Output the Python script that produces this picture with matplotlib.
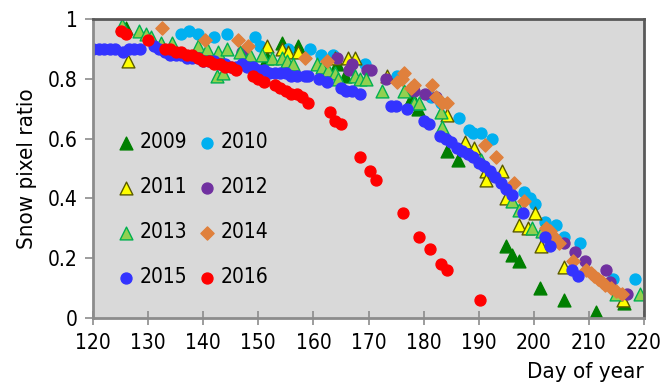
import matplotlib
matplotlib.use("Agg")
import matplotlib.pyplot as plt

plt.rcParams['font.family'] = ['Liberation Sans Narrow', 'DejaVu Sans']
plt.rcParams['font.stretch'] = 'condensed'

# ---- data (day of year, snow pixel ratio) ----
day_2009 = [126, 151.5, 154.3, 157.2, 164.2, 165.7, 177.4, 177.9, 179, 184.3, 186.3,
            195, 196, 197.3, 201.2, 205.4, 211.2, 216.4]
snow_2009 = [0.97, 0.87, 0.92, 0.91, 0.85, 0.81, 0.72, 0.74, 0.70, 0.56, 0.53,
             0.24, 0.21, 0.19, 0.10, 0.06, 0.02, 0.05]

day_2010 = [136, 137.5, 139, 142, 144.4, 149.4, 150.3, 155.4, 159.4, 161.3, 163.5,
            169.3, 175.2, 181.4, 183.2, 186.4, 188.2, 189, 190.4, 192.4, 198.2,
            199.4, 200.3, 202, 204, 205.4, 208.3, 214.4, 218.4]
snow_2010 = [0.95, 0.96, 0.95, 0.94, 0.95, 0.94, 0.91, 0.90, 0.90, 0.88, 0.88,
             0.85, 0.81, 0.74, 0.72, 0.67, 0.63, 0.62, 0.62, 0.60, 0.42,
             0.40, 0.38, 0.32, 0.31, 0.27, 0.25, 0.13, 0.13]

day_2011 = [126.3, 151.6, 154.3, 155.4, 157.2, 163.9, 166.2, 167.5, 173.4, 184.3, 187.5,
            189.1, 191.3, 191.3, 194.3, 195, 197.3, 199, 200.3, 201.3, 205.4, 216.2]
snow_2011 = [0.86, 0.91, 0.90, 0.89, 0.89, 0.87, 0.87, 0.87, 0.81, 0.68, 0.59,
             0.57, 0.49, 0.46, 0.49, 0.40, 0.31, 0.30, 0.35, 0.24, 0.17, 0.06]

day_2012 = [147, 164.3, 166.5, 167, 169.8, 170.5, 173.2, 178.3, 180.3, 182.3,
            205.4, 207.5, 209.3, 213.1, 213.9, 217]
snow_2012 = [0.89, 0.87, 0.83, 0.85, 0.83, 0.83, 0.80, 0.76, 0.75, 0.74,
             0.25, 0.22, 0.19, 0.16, 0.12, 0.08]

day_2013 = [125.2, 128.3, 129.6, 130.5, 132.3, 134.3, 139.1, 140.6, 142.5, 143.6,
            142.7, 144.4, 146.7, 148.5, 150.7, 152.5, 154.3, 155.2, 156.3, 160.6,
            161.5, 162.6, 163.9, 164.4, 167.5, 168.4, 169.6, 172.4, 176.5, 178.3,
            179.2, 183.2, 183.4, 190.4, 196, 197.3, 199.6, 201.4, 215, 219.3]
snow_2013 = [0.98, 0.96, 0.95, 0.94, 0.92, 0.92, 0.91, 0.90, 0.81, 0.82,
             0.89, 0.90, 0.89, 0.88, 0.88, 0.87, 0.87, 0.86, 0.85, 0.85,
             0.84, 0.83, 0.82, 0.80, 0.81, 0.80, 0.80, 0.76, 0.76, 0.72,
             0.72, 0.69, 0.64, 0.53, 0.39, 0.36, 0.30, 0.29, 0.08, 0.08]

day_2014 = [132.5, 140.4, 146.4, 148.2, 158.4, 162.4, 175.2, 176, 176.5, 177.8, 178.3,
            181.5, 182.3, 183.4, 184.3, 191.2, 193.2, 196.4, 198.2, 202.3, 203, 203.7,
            204.5, 207.2, 209.5, 210.3, 211, 211.7, 212.3, 213, 214, 215, 216]
snow_2014 = [0.97, 0.93, 0.93, 0.91, 0.87, 0.86, 0.79, 0.80, 0.82, 0.77, 0.78,
             0.78, 0.74, 0.72, 0.72, 0.58, 0.54, 0.45, 0.39, 0.30, 0.29, 0.27,
             0.25, 0.19, 0.16, 0.15, 0.14, 0.13, 0.12, 0.11, 0.10, 0.09, 0.08]

day_2015 = [120, 121, 122, 123, 124, 125.5, 126.5, 127.5, 128.5, 131, 132, 133, 134,
            135, 136, 137, 138, 139, 140, 141, 142, 143, 144, 145, 146, 147, 148,
            149, 150, 151, 152, 153, 154, 155, 156, 157, 158.4, 159, 161, 162.4,
            165, 166, 167, 168.4, 174, 175, 177, 180, 181, 183, 184, 185, 186, 187,
            188, 189, 190, 191, 192, 193, 194, 195, 196, 198, 202, 203, 207, 208]
snow_2015 = [0.90, 0.90, 0.90, 0.90, 0.90, 0.89, 0.90, 0.90, 0.90, 0.91, 0.90, 0.89, 0.88,
             0.88, 0.88, 0.87, 0.87, 0.87, 0.86, 0.86, 0.86, 0.85, 0.85, 0.84, 0.84, 0.85, 0.84,
             0.84, 0.83, 0.83, 0.82, 0.82, 0.82, 0.82, 0.81, 0.81, 0.81, 0.81, 0.80, 0.79,
             0.77, 0.76, 0.76, 0.75, 0.71, 0.71, 0.70, 0.66, 0.65, 0.61, 0.60, 0.59, 0.57, 0.56,
             0.55, 0.54, 0.52, 0.51, 0.49, 0.47, 0.45, 0.43, 0.41, 0.35, 0.27, 0.24, 0.16, 0.14]

day_2016 = [125, 126, 130, 133, 134, 135, 136, 137, 138, 139, 140, 141, 142, 143, 144,
            145, 146, 149, 150, 151, 153, 154, 155, 156, 157, 158, 159, 163, 164, 165,
            168.4, 170.3, 171.3, 176.3, 179.1, 181.2, 183.2, 184.3, 190.2]
snow_2016 = [0.96, 0.95, 0.93, 0.90, 0.90, 0.89, 0.89, 0.88, 0.88, 0.87, 0.86, 0.86, 0.85, 0.85, 0.84,
             0.84, 0.83, 0.81, 0.80, 0.79, 0.78, 0.77, 0.76, 0.75, 0.75, 0.74, 0.72, 0.69, 0.66, 0.65,
             0.54, 0.49, 0.46, 0.35, 0.27, 0.23, 0.18, 0.16, 0.06]

years = ['2009', '2010', '2011', '2012', '2013', '2014', '2015', '2016']
xs = [day_2009, day_2010, day_2011, day_2012, day_2013, day_2014, day_2015, day_2016]
ys = [snow_2009, snow_2010, snow_2011, snow_2012, snow_2013, snow_2014, snow_2015, snow_2016]

# marker, face colour, edge colour, size
styles = {
    '2009': ('^', '#007F00', '#007F00', 85),
    '2010': ('o', '#00B0F0', '#00B0F0', 62),
    '2011': ('^', '#FFFF00', '#5A5A00', 85),
    '2012': ('o', '#7030A0', '#7030A0', 62),
    '2013': ('^', '#92D050', '#00B050', 85),
    '2014': ('D', '#E0803C', '#E0803C', 45),
    '2015': ('o', '#3333FF', '#3333FF', 62),
    '2016': ('o', '#FF0000', '#FF0000', 62),
}

fig = plt.figure(figsize=(6.62, 3.86), dpi=100)
ax = fig.add_axes([93 / 662, 1 - 318 / 386, (644 - 93) / 662, (318 - 19) / 386])
ax.set_facecolor('#D9D9D9')

handles = {}
for yr, x, y in zip(years, xs, ys):
    m, fc, ec, s = styles[yr]
    handles[yr] = ax.scatter(x, y, marker=m, s=s, c=fc, edgecolors=ec, linewidths=1, label=yr)

ax.set_xlim(120, 220)
ax.set_ylim(0, 1)
ax.set_xticks(range(120, 221, 10))
ax.set_yticks([0, 0.2, 0.4, 0.6, 0.8, 1.0])
ax.set_yticklabels(['0', '0.2', '0.4', '0.6', '0.8', '1'])
ax.tick_params(axis='x', direction='inout', length=10, width=1.2, color='#8C8C8C',
               labelsize=15, pad=6)
ax.tick_params(axis='y', direction='out', length=6, width=1.2, color='#8C8C8C',
               labelsize=15, pad=5)

for side in ['left', 'bottom']:
    ax.spines[side].set_color('#8C8C8C')
    ax.spines[side].set_linewidth(2)
for side in ['top', 'right']:
    ax.spines[side].set_color('#595959')
    ax.spines[side].set_linewidth(2)

ax.set_ylabel('Snow pixel ratio', fontsize=16, labelpad=8)
ax.set_xlabel('Day of year', fontsize=16, loc='right', labelpad=6)

order = ['2009', '2011', '2013', '2015', '2010', '2012', '2014', '2016']
ax.legend([handles[k] for k in order], order, ncol=2, frameon=False, fontsize=15,
          loc='upper left', bbox_to_anchor=(0.022, 0.657), labelspacing=1.2,
          columnspacing=0.45, handletextpad=0.15, handlelength=1.0, borderpad=0)

fig.savefig('out.png', dpi=100)
